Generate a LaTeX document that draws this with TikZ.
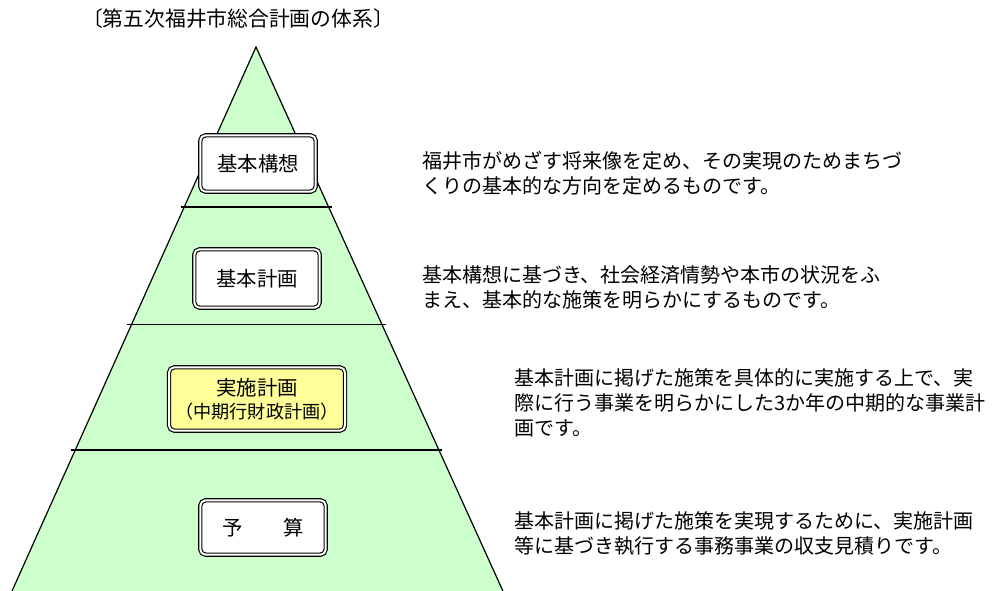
\documentclass[tikz,border=0pt]{standalone}
\usepackage{fontspec}
\newfontfamily\jp{Noto Sans CJK JP}
\definecolor{pgreen}{HTML}{CCFFCC}
\definecolor{pyellow}{HTML}{FFFF99}
\begin{document}
\begin{tikzpicture}[x=0.75pt,y=-0.75pt,
  lvlbox/.style={draw, line width=0.85pt, double distance=1.5pt, rounded corners=4pt,
    font=\jp\fontsize{15.3}{18}\selectfont, inner sep=0pt, align=center},
  desc/.style={anchor=west, inner sep=0pt, align=left, font=\jp\fontsize{15}{18.6}\selectfont},
  divline/.style={line width=0.9pt}]
\useasboundingbox (0,0) rectangle (993,591);
\begin{scope}
\clip (0,0) rectangle (993,591);
\fill[pgreen] (256,47) -- (8,600) -- (507,600) -- cycle;
\draw[line width=0.9pt] (8,600) -- (256,47) -- (507,600);
\end{scope}
\draw[divline] (181,207) -- (332,207);
\draw[divline] (127,324.5) -- (386,324.5);
\draw[divline] (71,450) -- (442,450);

\node[font=\jp\fontsize{15.6}{18}\selectfont] (title) at (238,19) {〔第五次福井市総合計画の体系〕};

\node[lvlbox, fill=white, minimum width=86.6pt, minimum height=42.3pt] (kousou) at (258,163.5) {基本構想};
\node[lvlbox, fill=white, minimum width=94.1pt, minimum height=43.8pt] (keikaku) at (257,278.5) {基本計画};
\node[lvlbox, fill=pyellow, minimum width=132pt, minimum height=47.6pt] (jisshi) at (257,399)
  {実施計画\\[-0.5pt]{\fontsize{13.6}{15}\selectfont （中期行財政計画）}};
\node[lvlbox, fill=white, minimum width=94.1pt, minimum height=40.8pt] (yosan) at (263,527.5) {予　　算};

\node[desc] (d1) at (422,173.5) {福井市がめざす将来像を定め、その実現のためまちづ\\くりの基本的な方向を定めるものです。};
\node[desc] (d2) at (422,287.5) {基本構想に基づき、社会経済情勢や本市の状況をふ\\まえ、基本的な施策を明らかにするものです。};
\node[desc] (d3) at (514,403) {基本計画に掲げた施策を具体的に実施する上で、実\\際に行う事業を明らかにした3か年の中期的な事業計\\画です。};
\node[desc] (d4) at (514,533.5) {基本計画に掲げた施策を実現するために、実施計画\\等に基づき執行する事務事業の収支見積りです。};
\end{tikzpicture}
\end{document}
